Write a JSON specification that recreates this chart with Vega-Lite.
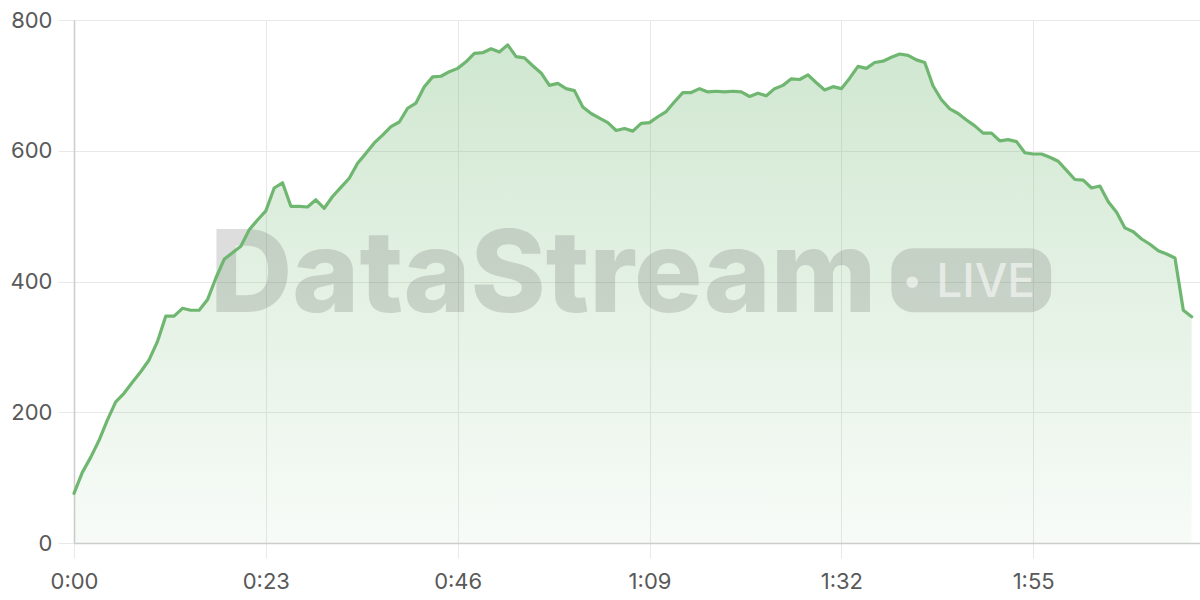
{
  "$schema": "https://vega.github.io/schema/vega-lite/v6.json",
  "autosize": {"type": "none"},
  "width": 1126,
  "height": 523,
  "padding": {"left": 74, "top": 20, "right": 0, "bottom": 57},
  "background": "#ffffff",
  "config": {
    "font": "Inter",
    "view": {"stroke": null},
    "axis": {
      "labelFont": "Inter",
      "labelFontSize": 22,
      "labelColor": "#595959",
      "gridColor": "#e8e8e8",
      "gridWidth": 1,
      "tickColor": "#e8e8e8",
      "tickSize": 16,
      "domainColor": "#cccccc",
      "domainWidth": 1.5,
      "labelFlush": false,
      "labelOverlap": false,
      "title": null
    }
  },
  "datasets": {
    "series": [
      {"t":0,"v":76},{"t":1,"v":108},{"t":2,"v":131},{"t":3,"v":157},{"t":4,"v":188},{"t":5,"v":216},{"t":6,"v":229},{"t":7,"v":246},{"t":8,"v":262},{"t":9,"v":280},
      {"t":10,"v":308},{"t":11,"v":347},{"t":12,"v":347},{"t":13,"v":359},{"t":14,"v":356},{"t":15,"v":356},{"t":16,"v":372},{"t":17,"v":405},{"t":18,"v":434},{"t":19,"v":444},
      {"t":20,"v":454},{"t":21,"v":479},{"t":22,"v":494},{"t":23,"v":508},{"t":24,"v":543},{"t":25,"v":551},{"t":26,"v":515},{"t":27,"v":515},{"t":28,"v":514},{"t":29,"v":525},
      {"t":30,"v":512},{"t":31,"v":530},{"t":32,"v":544},{"t":33,"v":558},{"t":34,"v":581},{"t":35,"v":596},{"t":36,"v":612},{"t":37,"v":624},{"t":38,"v":637},{"t":39,"v":644},
      {"t":40,"v":665},{"t":41,"v":673},{"t":42,"v":698},{"t":43,"v":713},{"t":44,"v":714},{"t":45,"v":721},{"t":46,"v":726},{"t":47,"v":736},{"t":48,"v":749},{"t":49,"v":750},
      {"t":50,"v":756},{"t":51,"v":751},{"t":52,"v":762},{"t":53,"v":744},{"t":54,"v":742},{"t":55,"v":730},{"t":56,"v":719},{"t":57,"v":700},{"t":58,"v":703},{"t":59,"v":695},
      {"t":60,"v":692},{"t":61,"v":667},{"t":62,"v":657},{"t":63,"v":650},{"t":64,"v":643},{"t":65,"v":631},{"t":66,"v":634},{"t":67,"v":630},{"t":68,"v":642},{"t":69,"v":643},
      {"t":70,"v":652},{"t":71,"v":660},{"t":72,"v":675},{"t":73,"v":689},{"t":74,"v":689},{"t":75,"v":695},{"t":76,"v":690},{"t":77,"v":691},{"t":78,"v":690},{"t":79,"v":691},
      {"t":80,"v":690},{"t":81,"v":683},{"t":82,"v":688},{"t":83,"v":684},{"t":84,"v":695},{"t":85,"v":700},{"t":86,"v":710},{"t":87,"v":709},{"t":88,"v":716},{"t":89,"v":704},
      {"t":90,"v":693},{"t":91,"v":698},{"t":92,"v":695},{"t":93,"v":711},{"t":94,"v":729},{"t":95,"v":726},{"t":96,"v":735},{"t":97,"v":737},{"t":98,"v":743},{"t":99,"v":748},
      {"t":100,"v":746},{"t":101,"v":739},{"t":102,"v":735},{"t":103,"v":699},{"t":104,"v":678},{"t":105,"v":664},{"t":106,"v":657},{"t":107,"v":647},{"t":108,"v":638},{"t":109,"v":627},
      {"t":110,"v":627},{"t":111,"v":615},{"t":112,"v":617},{"t":113,"v":614},{"t":114,"v":597},{"t":115,"v":595},{"t":116,"v":595},{"t":117,"v":590},{"t":118,"v":584},{"t":119,"v":570},
      {"t":120,"v":556},{"t":121,"v":555},{"t":122,"v":543},{"t":123,"v":546},{"t":124,"v":522},{"t":125,"v":506},{"t":126,"v":482},{"t":127,"v":476},{"t":128,"v":465},{"t":129,"v":457},
      {"t":130,"v":447},{"t":131,"v":442},{"t":132,"v":436},{"t":133,"v":356},{"t":134,"v":346}
    ]
  },
  "layer": [
    {
      "data": {"name": "series"},
      "mark": {
        "type": "area",
        "interpolate": "linear",
        "color": {
          "gradient": "linear",
          "x1": 0, "y1": 0, "x2": 0, "y2": 1,
          "stops": [
            {"offset": 0, "color": "rgba(109,181,111,0.32)"},
            {"offset": 1, "color": "rgba(109,181,111,0.05)"}
          ]
        }
      },
      "encoding": {
        "x": {
          "field": "t", "type": "quantitative",
          "scale": {"domain": [0, 135], "nice": false, "zero": false},
          "axis": {
            "values": [0, 23, 46, 69, 92, 115],
            "labelExpr": "floor(datum.value/60) + ':' + (datum.value % 60 < 10 ? '0' : '') + (datum.value % 60)",
            "tickSize": 15,
            "labelPadding": 13,
            "grid": true
          }
        },
        "y": {
          "field": "v", "type": "quantitative",
          "scale": {"domain": [0, 800], "nice": false},
          "axis": {
            "values": [0, 200, 400, 600, 800],
            "tickSize": 16,
            "labelPadding": 6,
            "grid": true
          }
        }
      }
    },
    {
      "data": {"values": [{"label": "DataStream"}]},
      "mark": {"type": "text", "font": "Inter", "fontWeight": 800, "fontSize": 114, "align": "left", "baseline": "alphabetic", "color": "#4a4a4a", "opacity": 0.18},
      "encoding": {
        "x": {"datum": 16.3, "type": "quantitative"},
        "y": {"datum": 353, "type": "quantitative"},
        "text": {"field": "label"}
      }
    },
    {
      "data": {"values": [{"label": "box"}]},
      "mark": {"type": "rect", "cornerRadius": 22, "color": "#4a4a4a", "opacity": 0.18},
      "encoding": {
        "x": {"datum": 98, "type": "quantitative"},
        "x2": {"datum": 117.15},
        "y": {"datum": 451, "type": "quantitative"},
        "y2": {"datum": 353}
      }
    },
    {
      "data": {"values": [{"label": "dot"}]},
      "mark": {"type": "point", "shape": "circle", "filled": true, "size": 133, "color": "#ffffff", "opacity": 0.55},
      "encoding": {
        "x": {"datum": 100.5, "type": "quantitative"},
        "y": {"datum": 399, "type": "quantitative"}
      }
    },
    {
      "data": {"values": [{"label": "LIVE"}]},
      "mark": {"type": "text", "font": "Inter", "fontWeight": 500, "fontSize": 46, "align": "center", "baseline": "alphabetic", "color": "#ffffff", "opacity": 0.55},
      "encoding": {
        "x": {"datum": 109.3, "type": "quantitative"},
        "y": {"datum": 376, "type": "quantitative"},
        "text": {"field": "label"}
      }
    },
    {
      "data": {"name": "series"},
      "mark": {"type": "line", "color": "#6fb770", "strokeWidth": 3.2, "strokeJoin": "round", "strokeCap": "round"},
      "encoding": {
        "x": {"field": "t", "type": "quantitative"},
        "y": {"field": "v", "type": "quantitative"}
      }
    }
  ]
}
